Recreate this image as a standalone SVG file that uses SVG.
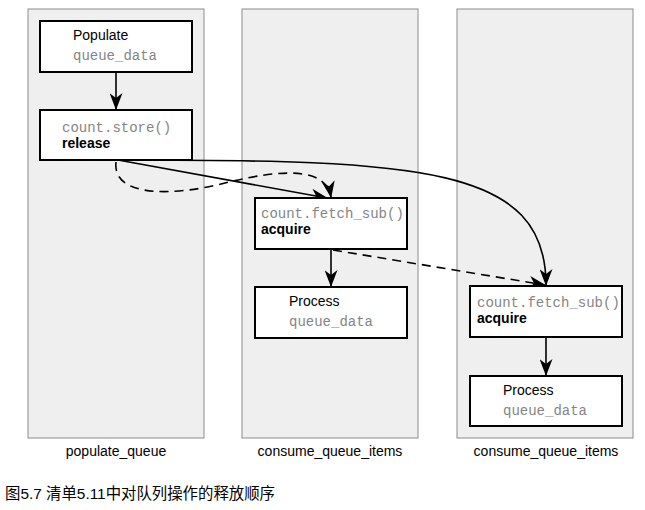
<svg xmlns="http://www.w3.org/2000/svg" width="645" height="510" viewBox="0 0 645 510">
<style>
.col{fill:#efefef;stroke:#8c8c8c;stroke-width:1}
.box{fill:#fff;stroke:#000;stroke-width:2}
.sans{font-family:"Liberation Sans",Arial,sans-serif;font-size:14px;fill:#000}
.bold{font-family:"Liberation Sans",Arial,sans-serif;font-size:14px;font-weight:bold;fill:#000}
.mono{font-family:"Liberation Mono","Courier New",monospace;font-size:14px;fill:#858585}
.edge{fill:none;stroke:#000;stroke-width:1.6}
.dash{stroke-dasharray:9,6}
.cap{font-family:"Liberation Sans","Noto Sans CJK SC",sans-serif;font-size:15.4px;fill:#000}
</style>
<defs>
<marker id="arr" viewBox="0 0 17 13" refX="16" refY="6.5" markerWidth="17" markerHeight="13" markerUnits="userSpaceOnUse" orient="auto">
<path d="M0,0 L17,6.5 L0,13 L5,6.5 z" fill="#000"/>
</marker>
</defs>
<rect width="645" height="510" fill="#fff"/>
<g id="lanes">
<rect class="col" x="28" y="9" width="176" height="429"/>
<rect class="col" x="242" y="9" width="176" height="429"/>
<rect class="col" x="457" y="9" width="176" height="429"/>
<text class="sans" x="116" y="456" text-anchor="middle">populate_queue</text>
<text class="sans" x="330" y="456" text-anchor="middle">consume_queue_items</text>
<text class="sans" x="546" y="456" text-anchor="middle">consume_queue_items</text>
</g>
<g id="connectors">
<line class="edge" x1="116" y1="72" x2="116" y2="109" marker-end="url(#arr)"/>
<line class="edge" x1="118" y1="160" x2="327" y2="198" marker-end="url(#arr)"/>
<path class="edge" d="M118,160 C420,160 546,166 546,285" marker-end="url(#arr)"/>
<path class="edge dash" d="M116,162 C112,198 175,196 225,183 C285,168 326,168 331,197" marker-end="url(#arr)"/>
<line class="edge" x1="331" y1="249" x2="331" y2="286" marker-end="url(#arr)"/>
<line class="edge dash" x1="333" y1="250" x2="545" y2="285" marker-end="url(#arr)"/>
<line class="edge" x1="546" y1="337" x2="546" y2="375" marker-end="url(#arr)"/>
</g>
<g id="populate">
<rect class="box" x="40" y="21" width="152" height="51"/>
<text class="sans" x="73" y="40">Populate</text>
<text class="mono" x="73" y="60">queue_data</text>
</g>
<g id="store">
<rect class="box" x="40" y="110" width="152" height="50"/>
<text class="mono" x="62" y="132">count.store()</text>
<text class="bold" x="62" y="148">release</text>
</g>
<g id="fetch1">
<rect class="box" x="255" y="198" width="152" height="51"/>
<text class="mono" x="261" y="218">count.fetch_sub()</text>
<text class="bold" x="261" y="234">acquire</text>
</g>
<g id="process1">
<rect class="box" x="255" y="287" width="152" height="51"/>
<text class="sans" x="289" y="306">Process</text>
<text class="mono" x="289" y="326">queue_data</text>
</g>
<g id="fetch2">
<rect class="box" x="470" y="286" width="152" height="51"/>
<text class="mono" x="477" y="307">count.fetch_sub()</text>
<text class="bold" x="477" y="323">acquire</text>
</g>
<g id="process2">
<rect class="box" x="470" y="376" width="152" height="50"/>
<text class="sans" x="503" y="395">Process</text>
<text class="mono" x="503" y="415">queue_data</text>
</g>
<text class="cap" x="5" y="499">图5.7 清单5.11中对队列操作的释放顺序</text>
</svg>
